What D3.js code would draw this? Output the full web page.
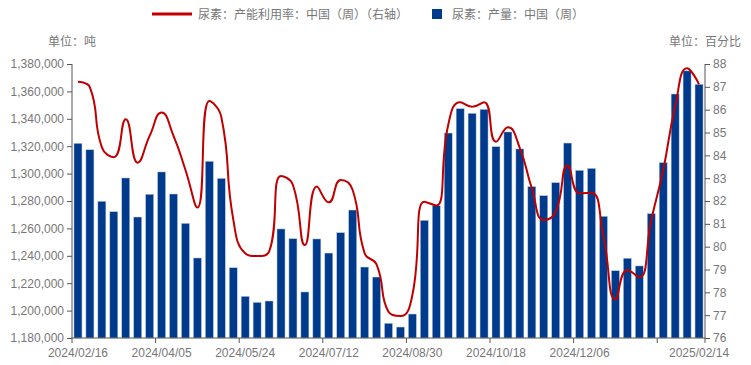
<!DOCTYPE html>
<html><head><meta charset="utf-8">
<script src="https://cdn.jsdelivr.net/npm/d3@7/dist/d3.min.js"></script>
<style>
html,body{margin:0;padding:0;background:#fff;}
svg{display:block;}
</style>
</head><body>
<svg id="chart" width="751" height="365"></svg>
<script>
const categories = ["2024/02/16","2024/02/23","2024/03/01","2024/03/08","2024/03/15","2024/03/22","2024/03/29","2024/04/05","2024/04/12","2024/04/19","2024/04/26","2024/05/03","2024/05/10","2024/05/17","2024/05/24","2024/05/31","2024/06/07","2024/06/14","2024/06/21","2024/06/28","2024/07/05","2024/07/12","2024/07/19","2024/07/26","2024/08/02","2024/08/09","2024/08/16","2024/08/23","2024/08/30","2024/09/06","2024/09/13","2024/09/20","2024/09/27","2024/10/04","2024/10/11","2024/10/18","2024/10/25","2024/11/01","2024/11/08","2024/11/15","2024/11/22","2024/11/29","2024/12/06","2024/12/13","2024/12/20","2024/12/27","2025/01/03","2025/01/10","2025/01/17","2025/01/24","2025/01/31","2025/02/07","2025/02/14"];

const output = [1322100,1317400,1279800,1272200,1296800,1268300,1284900,1301200,1285100,1263700,1238400,1309000,1296500,1231300,1210400,1206000,1207000,1259600,1252500,1213600,1252300,1242000,1256900,1273400,1231800,1224500,1190700,1188000,1197500,1265900,1276600,1329600,1347400,1344000,1346900,1319700,1330400,1318000,1290500,1283900,1293400,1322300,1302400,1303800,1268800,1229100,1238200,1232600,1270800,1308000,1358100,1375000,1365200];

const utilization = [87.22,86.98,84.35,83.92,85.58,83.68,84.85,85.88,84.85,83.36,81.71,86.38,85.69,81.2,79.71,79.59,79.78,83.1,82.7,80.07,82.63,81.94,82.92,82.48,79.71,79.22,77.15,76.96,77.88,81.97,81.8,85.33,86.33,86.13,86.33,84.6,85.23,84.31,82.56,81.17,81.53,83.56,82.34,82.36,80.44,77.69,78.98,78.66,81.17,83.36,86.13,87.81,87.11];

const leftTicks = [1180000,1200000,1220000,1240000,1260000,1280000,1300000,1320000,1340000,1360000,1380000];
const rightTicks = [76,77,78,79,80,81,82,83,84,85,86,87,88];
const xLabelCats = ["2024/02/16","2024/04/05","2024/05/24","2024/07/12","2024/08/30","2024/10/18","2024/12/06","2025/02/14"];
const xTickCats = ["2024/02/16","2024/04/05","2024/05/24","2024/07/12","2024/08/30","2024/10/18","2024/12/06","2025/01/24"];

const lineName = "尿素：产能利用率：中国（周）（右轴）";
const barName = "尿素：产量：中国（周）";
const leftUnit = "单位：吨";
const rightUnit = "单位：百分比";

const BAR_COLOR = "#003a8c";
const LINE_COLOR = "#c00000";
const AXIS_COLOR = "#555";
const TEXT_COLOR = "#777";
const CJK = "'Noto Sans CJK SC', 'Noto Sans', sans-serif";
const LAT = "'Liberation Sans', Arial, sans-serif";

const L = 72, R = 705, T = 64, B = 338;
const svg = d3.select("#chart");

const x = d3.scaleBand().domain(categories).range([L, R]).paddingInner(0.33).paddingOuter(0.165);
const yL = d3.scaleLinear().domain([1180000, 1380000]).range([B, T]);
const yR = d3.scaleLinear().domain([76, 88]).range([B, T]);

// ECharts-like smoothing curve
function echartsCurve(context) {
  let pts = [];
  return {
    areaStart() {}, areaEnd() {},
    lineStart() { pts = []; },
    point(px, py) { pts.push([+px, +py]); },
    lineEnd() {
      const smooth = 0.5, n = pts.length;
      if (!n) return;
      let prevX = pts[0][0], prevY = pts[0][1];
      context.moveTo(prevX, prevY);
      let cpx0 = prevX, cpy0 = prevY;
      for (let i = 1; i < n; i++) {
        const px = pts[i][0], py = pts[i][1];
        let cpx1, cpy1, ncx = px, ncy = py;
        if (i === n - 1) { cpx1 = px; cpy1 = py; }
        else {
          const nx = pts[i+1][0], ny = pts[i+1][1];
          let vx = nx - prevX, vy = ny - prevY;
          const lp = Math.hypot(px - prevX, py - prevY);
          const ln = Math.hypot(nx - px, ny - py);
          const r = ln / (ln + lp);
          ncx = px + vx * smooth * r; ncy = py + vy * smooth * r;
          ncx = Math.min(ncx, Math.max(nx, px)); ncy = Math.min(ncy, Math.max(ny, py));
          ncx = Math.max(ncx, Math.min(nx, px)); ncy = Math.max(ncy, Math.min(ny, py));
          vx = ncx - px; vy = ncy - py;
          cpx1 = px - vx * lp / ln; cpy1 = py - vy * lp / ln;
          cpx1 = Math.min(cpx1, Math.max(prevX, px)); cpy1 = Math.min(cpy1, Math.max(prevY, py));
          cpx1 = Math.max(cpx1, Math.min(prevX, px)); cpy1 = Math.max(cpy1, Math.min(prevY, py));
          vx = px - cpx1; vy = py - cpy1;
          ncx = px + vx * ln / lp; ncy = py + vy * ln / lp;
        }
        context.bezierCurveTo(cpx0, cpy0, cpx1, cpy1, px, py);
        cpx0 = ncx; cpy0 = ncy;
        prevX = px; prevY = py;
      }
    }
  };
}

// Bars
svg.append("g").selectAll("rect").data(categories).join("rect")
  .attr("x", d => x(d))
  .attr("width", x.bandwidth())
  .attr("y", (d, i) => yL(output[i]))
  .attr("height", (d, i) => B - yL(output[i]))
  .attr("fill", BAR_COLOR)
  .attr("stroke", "#b9c9e4")
  .attr("stroke-width", 0.5);

// Line
const line = d3.line()
  .x((d, i) => x(categories[i]) + x.bandwidth() / 2)
  .y(d => yR(d))
  .curve(echartsCurve);
svg.append("path").datum(utilization)
  .attr("d", line)
  .attr("fill", "none")
  .attr("stroke", LINE_COLOR)
  .attr("stroke-width", 2)
  .attr("stroke-linejoin", "round");

// Left axis
const gL = svg.append("g").attr("transform", `translate(${L},0)`)
  .call(d3.axisLeft(yL).tickValues(leftTicks).tickFormat(d3.format(",")).tickSize(5).tickPadding(3));
// Right axis
const gR = svg.append("g").attr("transform", `translate(${R},0)`)
  .call(d3.axisRight(yR).tickValues(rightTicks).tickFormat(d3.format("d")).tickSize(5).tickPadding(3));
// Bottom axis
const step = x.step();
const gB = svg.append("g").attr("transform", `translate(0,${B})`)
  .call(d3.axisBottom(x).tickValues(xLabelCats).tickSize(0).tickPadding(10));
gB.selectAll(".tick text").attr("dy", "0.71em");
// ticks at category boundaries
const boundaryXs = xTickCats.map(c => x(c) - (step - x.bandwidth()) / 2).concat([R]);
gB.selectAll("line.bt").data(boundaryXs).join("line").attr("class", "bt")
  .attr("x1", d => d).attr("x2", d => d).attr("y1", 0).attr("y2", 5)
  .attr("stroke", AXIS_COLOR);

[gL, gR, gB].forEach(g => {
  g.select(".domain").attr("stroke", AXIS_COLOR).attr("stroke-width", 1);
  g.selectAll(".tick line").attr("stroke", AXIS_COLOR);
  g.selectAll(".tick text").attr("fill", TEXT_COLOR).style("font-family", LAT).style("font-size", "12px");
});
gL.select(".domain").attr("d", `M0,${T}V${B}`);
gR.select(".domain").attr("d", `M0,${T}V${B}`);
gB.select(".domain").attr("d", `M${L},0H${R}`);

// Unit labels
svg.append("text").attr("x", 48).attr("y", 46).text(leftUnit)
  .attr("fill", TEXT_COLOR).style("font-family", CJK).style("font-size", "12px");
svg.append("text").attr("x", 741).attr("y", 46).attr("text-anchor", "end").text(rightUnit)
  .attr("fill", TEXT_COLOR).style("font-family", CJK).style("font-size", "12px");

// Legend
const lg = svg.append("g");
lg.append("line").attr("x1", 152).attr("x2", 192).attr("y1", 14).attr("y2", 14)
  .attr("stroke", LINE_COLOR).attr("stroke-width", 3);
lg.append("text").attr("x", 198).attr("y", 18.5).text(lineName)
  .attr("fill", TEXT_COLOR).style("font-family", CJK).style("font-size", "12px");
lg.append("rect").attr("x", 432).attr("y", 9).attr("width", 10).attr("height", 10).attr("fill", BAR_COLOR);
lg.append("text").attr("x", 452).attr("y", 18.5).text(barName)
  .attr("fill", TEXT_COLOR).style("font-family", CJK).style("font-size", "12px");
</script>
</body></html>
